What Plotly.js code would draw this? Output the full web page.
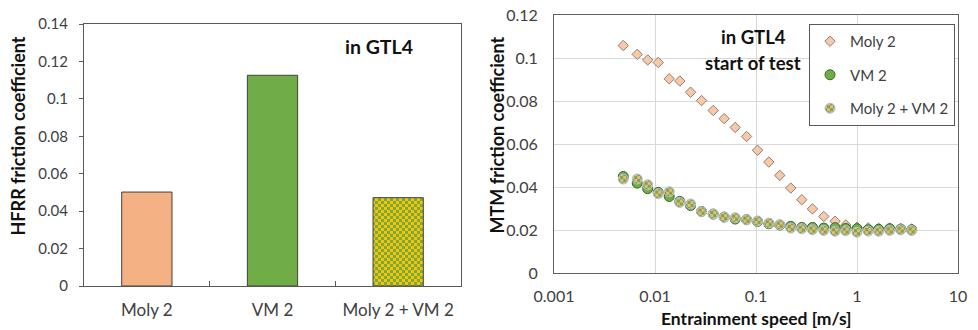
<!DOCTYPE html>
<html>
<head>
<meta charset="utf-8">
<script src="https://cdn.plot.ly/plotly-3.0.1.min.js"></script>
<style>
  html, body { margin: 0; padding: 0; background: #fff; }
  #chart { width: 978px; height: 330px; }
</style>
</head>
<body>
<div id="chart"></div>
<script>
// HFRR results (left panel)
const hfrrCategories = ["Moly 2", "VM 2", "Moly 2 + VM 2"];
const hfrrFriction = [0.0502, 0.1126, 0.0472];

// MTM Stribeck curves (right panel)
const speed = [0.00485, 0.00667, 0.00846, 0.01076, 0.01383, 0.0176, 0.0225, 0.0289, 0.0377,
  0.0484, 0.0622, 0.0806, 0.1035, 0.134, 0.172, 0.221, 0.284, 0.362, 0.469, 0.607, 0.774,
  1.0, 1.29, 1.64, 2.11, 2.71, 3.48];
const moly2 = [0.1058, 0.1017, 0.0991, 0.0979, 0.0903, 0.0893, 0.0841, 0.0802, 0.0756,
  0.0718, 0.0677, 0.0635, 0.0571, 0.0516, 0.0454, 0.0395, 0.0341, 0.0298, 0.0263, 0.0241, 0.0223,
  0.0213, 0.0210, 0.0208, 0.0209, 0.0207, 0.0205];
const vm2 = [0.0449, 0.0418, 0.0392, 0.0375, 0.0356, 0.0333, 0.0314, 0.0286, 0.0274,
  0.0260, 0.0251, 0.0248, 0.0240, 0.0229, 0.0223, 0.0217, 0.0212, 0.0212, 0.0209, 0.0211, 0.0207,
  0.0206, 0.0201, 0.0203, 0.0206, 0.0204, 0.0201];
const moly2vm2 = [0.0437, 0.0437, 0.0410, 0.0369, 0.0378, 0.0328, 0.0321, 0.0285, 0.0274,
  0.0260, 0.0257, 0.0248, 0.0242, 0.0232, 0.0225, 0.0209, 0.0206, 0.0201, 0.0198, 0.0194, 0.0197,
  0.0190, 0.0195, 0.0194, 0.0198, 0.0201, 0.0198];

const speedTicks = [0.001, 0.01, 0.1, 1, 10];
const speedTickText = ["0.001", "0.01", "0.1", "1", "10"];

const FONT = "Lato, 'Open Sans', sans-serif";
const TICK = "#404040";
const TITLE = "#111111";

const traces = [
  {
    type: "bar", x: hfrrCategories, y: hfrrFriction, xaxis: "x", yaxis: "y",
    width: 0.4, showlegend: false, hoverinfo: "skip",
    marker: { color: ["#F4B183", "#70AD47", "#FFC000"], line: { color: "#404040", width: 1 } }
  },
  {
    type: "scatter", mode: "markers", name: "Moly 2", x: speed, y: moly2,
    xaxis: "x2", yaxis: "y2", legendgroup: "a",
    marker: { symbol: "diamond", size: 8, color: "#F8C9A9", line: { color: "#8a8078", width: 1 } }
  },
  {
    type: "scatter", mode: "markers", name: "VM 2", x: speed, y: vm2,
    xaxis: "x2", yaxis: "y2", legendgroup: "b",
    marker: { symbol: "circle", size: 10, color: "#70AD47", line: { color: "#3A6B22", width: 1 } }
  },
  {
    type: "scatter", mode: "markers", name: "Moly 2 + VM 2", x: speed, y: moly2vm2,
    xaxis: "x2", yaxis: "y2", legendgroup: "c",
    marker: { symbol: "circle", size: 10, color: "#F4B183", line: { color: "#A9C2DC", width: 1 } }
  }
];

const layout = {
  width: 978, height: 330,
  margin: { l: 0, r: 0, t: 0, b: 0 },
  paper_bgcolor: "#ffffff", plot_bgcolor: "#ffffff",
  font: { family: FONT, color: TICK, size: 14 },
  showlegend: true,
  xaxis: {
    domain: [84 / 978, 461 / 978], anchor: "y",
    type: "category", range: [-0.5, 2.5],
    showline: true, linecolor: "#595959", linewidth: 1, mirror: true,
    ticks: "inside", tickson: "boundaries", ticklen: 5, tickcolor: "#595959",
    tickfont: { size: 17, color: TICK }, ticklabelstandoff: 9,
    showgrid: false, zeroline: false, fixedrange: true
  },
  yaxis: {
    domain: [1 - 286 / 330, 1 - 24 / 330], anchor: "x",
    range: [0, 0.14], dtick: 0.02, tick0: 0,
    showline: true, linecolor: "#595959", linewidth: 1, mirror: true,
    ticks: "outside", ticklen: 4, tickcolor: "#595959",
    tickfont: { size: 15, color: TICK }, ticklabelstandoff: 8,
    showgrid: false, zeroline: false, fixedrange: true
  },
  xaxis2: {
    domain: [554 / 978, 958 / 978], anchor: "y2",
    type: "log", range: [-3, 1],
    tickvals: speedTicks, ticktext: speedTickText,
    showline: true, linecolor: "#606060", linewidth: 1, mirror: true,
    ticks: "", tickfont: { size: 16, color: TICK }, ticklabelstandoff: 9,
    showgrid: true, gridcolor: "#D9D9D9", gridwidth: 1, zeroline: false, fixedrange: true
  },
  yaxis2: {
    domain: [1 - 273 / 330, 1 - 15 / 330], anchor: "x2",
    range: [0, 0.12], dtick: 0.02, tick0: 0,
    showline: true, linecolor: "#606060", linewidth: 1, mirror: true,
    ticks: "", tickfont: { size: 16, color: TICK }, ticklabelstandoff: 12,
    showgrid: true, gridcolor: "#D9D9D9", gridwidth: 1, zeroline: false, fixedrange: true
  },
  legend: {
    x: 955 / 978, xanchor: "right", y: 1 - 24 / 330, yanchor: "top",
    bgcolor: "#ffffff", bordercolor: "#595959", borderwidth: 1,
    font: { size: 15, color: TICK, family: FONT },
    tracegroupgap: 11, itemwidth: 30
  },
  annotations: [
    { xref: "paper", yref: "paper", x: 18 / 978, y: 1 - 136.5 / 330, textangle: -90,
      text: "<b>HFRR friction coefficient</b>", showarrow: false,
      font: { size: 18, color: TITLE }, xanchor: "center", yanchor: "middle" },
    { xref: "paper", yref: "paper", x: 379 / 978, y: 1 - 46 / 330,
      text: "<b>in GTL4</b>", showarrow: false,
      font: { size: 19.5, color: TITLE }, xanchor: "center", yanchor: "middle" },
    { xref: "paper", yref: "paper", x: 496 / 978, y: 1 - 135.5 / 330, textangle: -90,
      text: "<b>MTM friction coefficient</b>", showarrow: false,
      font: { size: 18, color: TITLE }, xanchor: "center", yanchor: "middle" },
    { xref: "paper", yref: "paper", x: 756.5 / 978, y: 1 - 318 / 330,
      text: "<b>Entrainment speed [m/s]</b>", showarrow: false,
      font: { size: 17.5, color: TITLE }, xanchor: "center", yanchor: "middle" },
    { xref: "paper", yref: "paper", x: 753 / 978, y: 1 - 37 / 330,
      text: "<b>in GTL4</b>", showarrow: false,
      font: { size: 18.5, color: TITLE }, xanchor: "center", yanchor: "middle" },
    { xref: "paper", yref: "paper", x: 753 / 978, y: 1 - 63.5 / 330,
      text: "<b>start of test</b>", showarrow: false,
      font: { size: 18.5, color: TITLE }, xanchor: "center", yanchor: "middle" }
  ]
};

// Two-colour checkerboard fill, added to the plot's own <defs>
function addChecker(defs, id, cell, bg, fg) {
  const NS = "http://www.w3.org/2000/svg";
  const p = document.createElementNS(NS, "pattern");
  p.setAttribute("id", id);
  p.setAttribute("patternUnits", "userSpaceOnUse");
  p.setAttribute("width", 2 * cell);
  p.setAttribute("height", 2 * cell);
  const cells = [[0, 0, 2 * cell, 2 * cell, bg], [0, 0, cell, cell, fg], [cell, cell, cell, cell, fg]];
  cells.forEach(([x, y, w, h, c]) => {
    const r = document.createElementNS(NS, "rect");
    r.setAttribute("x", x); r.setAttribute("y", y);
    r.setAttribute("width", w); r.setAttribute("height", h);
    r.setAttribute("fill", c);
    p.appendChild(r);
  });
  defs.appendChild(p);
}

function applyCheckers(gd) {
  const svg = gd.querySelector("svg.main-svg");
  let defs = svg.querySelector("defs");
  if (!defs) { defs = document.createElementNS("http://www.w3.org/2000/svg", "defs"); svg.prepend(defs); }
  if (!document.getElementById("chk-bar")) {
    addChecker(defs, "chk-bar", 3, "#FFC000", "#70AD47");
    addChecker(defs, "chk-dot", 3, "#F4B183", "#70AD47");
  }
  const bars = gd.querySelectorAll(".barlayer .point path");
  if (bars[2]) bars[2].style.fill = "url(#chk-bar)";
  const sc = gd.querySelectorAll(".scatterlayer .trace");
  if (sc[2]) sc[2].querySelectorAll("path.point").forEach(p => { p.style.fill = "url(#chk-dot)"; });
  gd.querySelectorAll(".legend .traces").forEach(t => {
    if (t.textContent.indexOf("+") >= 0) {
      t.querySelectorAll(".legendpoints path").forEach(p => { p.style.fill = "url(#chk-dot)"; });
    }
  });
}

const gd = document.getElementById("chart");
Plotly.newPlot(gd, traces, layout, { displayModeBar: false, staticPlot: true })
  .then(() => applyCheckers(gd));
</script>
</body>
</html>
